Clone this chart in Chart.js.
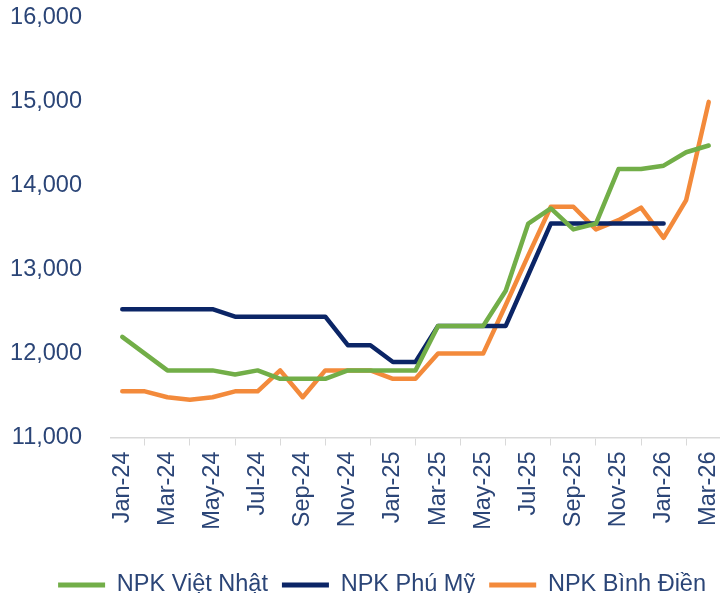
<!DOCTYPE html>
<html>
<head>
<meta charset="utf-8">
<script src="https://cdn.jsdelivr.net/npm/chart.js@4.4.1/dist/chart.umd.min.js"></script>
<style>
    html, body { margin: 0; padding: 0; background: #fff; }
    #wrap { width: 720px; height: 593px; position: relative; }
</style>
</head>
<body>
<div id="wrap"><canvas id="chart"></canvas></div>
<script>
// monthly prices, Jan-24 .. Mar-26
const months = ['Jan-24', 'Feb-24', 'Mar-24', 'Apr-24', 'May-24', 'Jun-24', 'Jul-24', 'Aug-24', 'Sep-24', 'Oct-24', 'Nov-24', 'Dec-24',
    'Jan-25', 'Feb-25', 'Mar-25', 'Apr-25', 'May-25', 'Jun-25', 'Jul-25', 'Aug-25', 'Sep-25', 'Oct-25', 'Nov-25', 'Dec-25',
    'Jan-26', 'Feb-26', 'Mar-26'];

const vietNhat = [12200, 12000, 11800, 11800, 11800, 11750, 11800, 11700, 11700, 11700, 11800, 11800,
    11800, 11800, 12330, 12330, 12330, 12750, 13550, 13730, 13480, 13550, 14200, 14200,
    14240, 14400, 14480];

const phuMy = [12530, 12530, 12530, 12530, 12530, 12440, 12440, 12440, 12440, 12440, 12100, 12100,
    11900, 11900, 12330, 12330, 12330, 12330, 12940, 13550, 13550, 13550, 13550, 13550,
    13550, null, null];

const binhDien = [11550, 11550, 11480, 11450, 11480, 11550, 11550, 11800, 11480, 11800, 11800, 11800,
    11700, 11700, 12000, 12000, 12000, 12580, 13170, 13750, 13750, 13480, 13590, 13740,
    13380, 13830, 15000];

const yTicks = [11000, 12000, 13000, 14000, 15000, 16000];

const textColor = '#2b4577';
const axisGray = '#d9d9d9';
const fontFamily = '"Liberation Sans", Arial, sans-serif';

function series(label, data, color) {
    return {
        label: label,
        data: data,
        borderColor: color,
        backgroundColor: color,
        borderWidth: 4.5,
        borderJoinStyle: 'round',
        borderCapStyle: 'round',
        pointRadius: 0,
        pointHoverRadius: 0,
        tension: 0,
        spanGaps: false
    };
}

// keep the plot area where the reference has it, no auto padding from labels
function noPad(scale) {
    scale.paddingTop = 0;
    scale.paddingBottom = 0;
    scale.paddingLeft = 0;
    scale.paddingRight = 0;
}

new Chart(document.getElementById('chart'), {
    type: 'line',
    data: {
        labels: months,
        datasets: [
            series('NPK Việt Nhật', vietNhat, '#72ae48'),
            series('NPK Phú Mỹ', phuMy, '#0b2566'),
            series('NPK Bình Điền', binhDien, '#f38a3b')
        ]
    },
    options: {
        responsive: true,
        maintainAspectRatio: false,
        animation: false,
        layout: { padding: { left: 0, right: 0, top: 18, bottom: -13.75 } },
        scales: {
            x: {
                offset: true,
                grid: { offset: true, drawOnChartArea: false, color: axisGray, tickLength: 8 },
                border: { color: axisGray, width: 1.5 },
                ticks: {
                    autoSkip: false,
                    minRotation: 90,
                    maxRotation: 90,
                    padding: 6,
                    color: textColor,
                    font: { size: 23.5, family: fontFamily },
                    callback: (v, i) => (i % 2 === 0 ? months[i] : null)
                },
                afterFit: scale => { scale.height = 121.75; noPad(scale); }
            },
            y: {
                min: 11000,
                max: 16000,
                grid: { display: false },
                border: { display: false },
                afterBuildTicks: scale => { scale.ticks = yTicks.map(v => ({ value: v })); },
                afterFit: scale => { scale.width = 111; noPad(scale); },
                ticks: {
                    padding: 21,
                    color: textColor,
                    font: { size: 23.5, family: fontFamily },
                    callback: v => v.toLocaleString('en-US')
                }
            }
        },
        plugins: {
            tooltip: { enabled: false },
            legend: {
                position: 'bottom',
                align: 'end',
                labels: {
                    boxWidth: 47,
                    boxHeight: 5,
                    padding: 14,
                    color: textColor,
                    font: { size: 23.5, family: fontFamily },
                    generateLabels: chart => {
                        const items = Chart.defaults.plugins.legend.labels.generateLabels(chart);
                        return items.map(it => Object.assign(it, { lineWidth: 0, fillStyle: it.strokeStyle }));
                    }
                }
            }
        }
    }
});
</script>
</body>
</html>
